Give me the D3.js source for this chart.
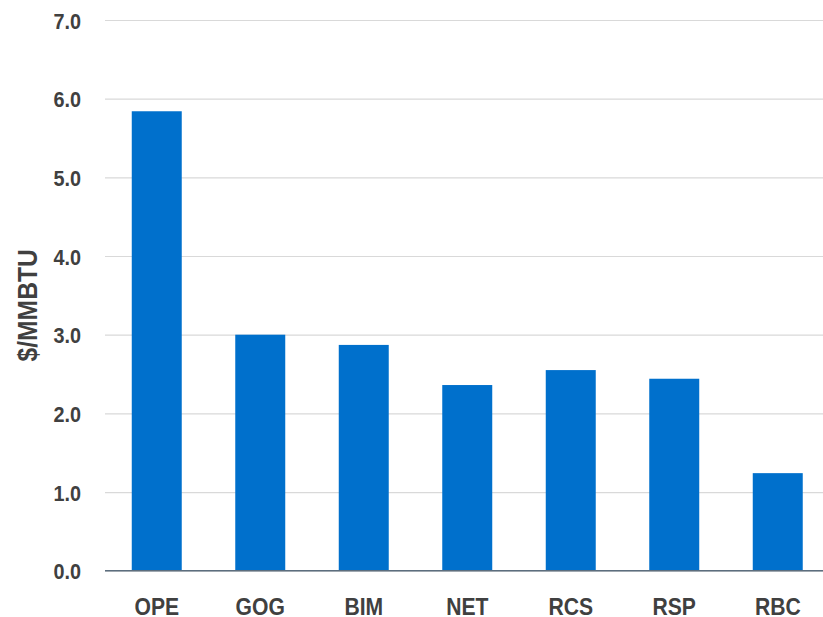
<!DOCTYPE html>
<html>
<head>
<meta charset="utf-8">
<script src="https://cdn.jsdelivr.net/npm/d3@7"></script>
<style>
  html, body { margin: 0; padding: 0; background: #ffffff; }
  svg { display: block; }
  text { font-family: "Liberation Sans", Arial, sans-serif; font-weight: bold; fill: #404040; }
</style>
</head>
<body>
<svg id="chart" width="823" height="617"></svg>
<script>
// Cost by option, $/MMBTU
const categories = ["OPE", "GOG", "BIM", "NET", "RCS", "RSP", "RBC"];
const values = [5.84, 3.0, 2.87, 2.36, 2.55, 2.44, 1.24];
const yTicks = [0, 1, 2, 3, 4, 5, 6, 7];
const yTitle = "$/MMBTU";

const W = 823, H = 617;
const plotLeft = 105, plotRight = 829.5, plotTop = 20, plotBottom = 570.7;
const squeeze = 0.88; // condensed lettering

const svg = d3.select("#chart");

const x = d3.scaleBand()
  .domain(categories)
  .range([plotLeft, plotRight])
  .paddingInner(0.517)
  .paddingOuter(0.2585);

const y = d3.scaleLinear()
  .domain([0, 7])
  .range([plotBottom, plotTop]);

// horizontal grid lines
const grid = svg.append("g")
  .attr("transform", `translate(${plotLeft},0)`)
  .call(d3.axisLeft(y).tickValues(yTicks).tickSize(-(W - plotLeft)).tickFormat(""));
grid.select(".domain").remove();
grid.selectAll(".tick line").attr("stroke", "#d9d9d9").attr("stroke-width", 1.2);

// bars
svg.append("g")
  .selectAll("rect")
  .data(categories.map((c, i) => ({ c, v: values[i] })))
  .join("rect")
  .attr("x", d => x(d.c))
  .attr("width", x.bandwidth())
  .attr("y", d => y(d.v))
  .attr("height", d => y(0) - y(d.v))
  .attr("fill", "#0070cc");

// baseline
svg.append("line")
  .attr("x1", plotLeft).attr("x2", W)
  .attr("y1", y(0)).attr("y2", y(0))
  .attr("stroke", "#5c6e7e").attr("stroke-width", 1.6);

// y tick labels
const yAxis = svg.append("g")
  .attr("transform", `translate(${plotLeft},0)`)
  .call(d3.axisLeft(y).tickValues(yTicks).tickSize(0).tickFormat(d3.format(".1f")));
yAxis.select(".domain").remove();
yAxis.selectAll("text")
  .attr("x", -24 / squeeze)
  .attr("dy", "0.36em")
  .attr("transform", `scale(${squeeze},1)`)
  .style("font-size", "22.5px")
  .attr("fill", "#404040");

// category labels
const xAxis = svg.append("g")
  .attr("transform", `translate(0,${plotBottom})`)
  .call(d3.axisBottom(x).tickSize(0));
xAxis.select(".domain").remove();
xAxis.selectAll(".tick text")
  .attr("y", 0)
  .attr("dy", 0)
  .attr("transform", `translate(0,44) scale(${squeeze},1)`)
  .style("font-size", "24px")
  .attr("fill", "#404040");

// y axis title
svg.append("text")
  .attr("transform", `translate(37,${(plotTop + plotBottom) / 2 + 10}) rotate(-90) scale(${squeeze},1)`)
  .attr("text-anchor", "middle")
  .style("font-size", "28px")
  .text(yTitle);
</script>
</body>
</html>
